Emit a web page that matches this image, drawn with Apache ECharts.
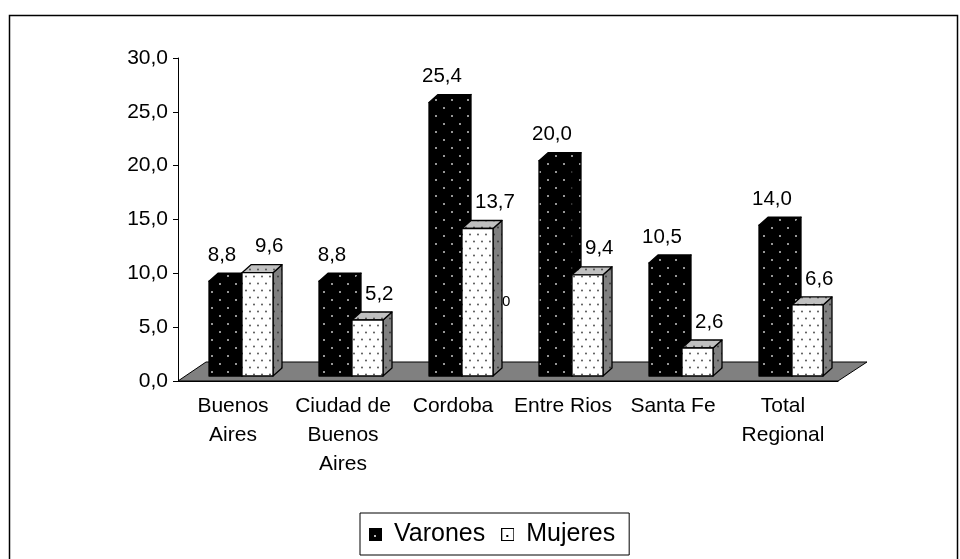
<!DOCTYPE html>
<html>
<head>
<meta charset="utf-8">
<script src="https://cdn.jsdelivr.net/npm/echarts@6/dist/echarts.min.js"></script>
<style>
  html, body { margin: 0; background: #fff; }
  #chart { width: 960px; height: 559px; }
</style>
</head>
<body>
<div id="chart"></div>
<script>
// datos
const categories = ['Buenos\nAires', 'Ciudad de\nBuenos\nAires', 'Cordoba', 'Entre Rios', 'Santa Fe', 'Total\nRegional'];
const varones = [8.8, 8.8, 25.4, 20.0, 10.5, 14.0];
const mujeres = [9.6, 5.2, 13.7, 9.4, 2.6, 6.6];
const yMin = 0, yMax = 30, yStep = 5;

const FONT = '"Liberation Sans", Arial, sans-serif';

// texturas punteadas
function tile(w, h, bg, dot, pts, r) {
    const c = document.createElement('canvas');
    c.width = w; c.height = h;
    const ctx = c.getContext('2d');
    ctx.fillStyle = bg;
    ctx.fillRect(0, 0, w, h);
    ctx.fillStyle = dot;
    pts.forEach(p => { ctx.beginPath(); ctx.arc(p[0], p[1], r, 0, Math.PI * 2); ctx.fill(); });
    return c;
}
const pat = (c) => ({ image: c, repeat: 'repeat' });

const blackTex = pat(tile(16, 16, '#000', '#c8c8c8', [[4, 4], [12, 12]], 1));
const whiteTex = pat(tile(8, 14, '#fff', '#444', [[2, 3.5], [6, 10.5]], 0.9));
const topTex = pat(tile(8, 14, '#c0c0c0', '#444', [[2, 3.5], [6, 10.5]], 0.9));
const sideTex = pat(tile(8, 14, '#808080', '#333', [[2, 3.5], [6, 10.5]], 0.9));

// iconos de la leyenda
function legendIcon(bg, dot) {
    const c = document.createElement('canvas');
    c.width = 13; c.height = 13;
    const ctx = c.getContext('2d');
    ctx.fillStyle = bg; ctx.fillRect(0, 0, 13, 13);
    ctx.strokeStyle = '#000'; ctx.lineWidth = 1; ctx.strokeRect(0.5, 0.5, 12, 12);
    ctx.fillStyle = dot; ctx.fillRect(5, 7, 2, 2);
    return 'image://' + c.toDataURL();
}

function fmt(v) { return v.toFixed(1).replace('.', ','); }

// barra 3D
function barRenderer(s) {
    return function (params, api) {
        const i = api.value(0), v = api.value(1);
        const base = api.coord([i, 0]);
        const c = base[0];
        const y0 = base[1] - 5;
        const h = api.size([0, v])[1];
        const x0 = c + (s === 0 ? -24 : 9);
        const w = s === 0 ? 33 : 31;
        const top = y0 - h;
        const dx = 9, dy = -8;
        const front = s === 0 ? blackTex : whiteTex;
        const topFill = s === 0 ? blackTex : topTex;
        const sideFill = s === 0 ? blackTex : sideTex;
        const line = { stroke: '#000', lineWidth: 1.3, lineJoin: 'round' };
        // etiqueta: varones centrada, mujeres a la derecha
        const label = s === 0
            ? { x: c - 11, align: 'center' }
            : { x: c + 22, align: 'left' };
        return {
            type: 'group',
            children: [
                { type: 'polygon', shape: { points: [[x0 + w, top], [x0 + w + dx, top + dy], [x0 + w + dx, y0 + dy], [x0 + w, y0]] },
                  style: Object.assign({ fill: sideFill }, line) },
                { type: 'polygon', shape: { points: [[x0, top], [x0 + dx, top + dy], [x0 + w + dx, top + dy], [x0 + w, top]] },
                  style: Object.assign({ fill: topFill }, line) },
                { type: 'rect', shape: { x: x0, y: top, width: w, height: h },
                  style: Object.assign({ fill: front }, line) },
                { type: 'text', z2: 10,
                  style: { text: fmt(v), x: label.x, y: top - 26, align: label.align, verticalAlign: 'middle',
                           font: '20.5px ' + FONT, fill: '#000' } }
            ]
        };
    };
}

const chart = echarts.init(document.getElementById('chart'));

chart.setOption({
    backgroundColor: '#fff',
    animation: false,
    grid: { left: 178, right: 122, top: 58, bottom: 178 },
    xAxis: {
        type: 'category',
        data: categories,
        z: 5,
        axisLine: { lineStyle: { color: '#000', width: 1 } },
        axisTick: { length: 6, lineStyle: { color: '#000' } },
        axisLabel: { color: '#000', fontSize: 21, fontFamily: FONT, lineHeight: 29, margin: 11, interval: 0 }
    },
    yAxis: {
        type: 'value',
        min: yMin, max: yMax, interval: yStep,
        z: 5,
        splitLine: { show: false },
        axisLine: { show: true, lineStyle: { color: '#000', width: 1 } },
        axisTick: { show: true, length: 5, lineStyle: { color: '#000' } },
        axisLabel: { color: '#000', fontSize: 21, fontFamily: FONT, margin: 10, formatter: fmt }
    },
    legend: {
        left: 360, top: 513,
        padding: [9, 14, 8, 9],
        borderColor: '#000', borderWidth: 1,
        itemWidth: 13, itemHeight: 13, itemGap: 16,
        textStyle: { color: '#000', fontSize: 25, fontFamily: FONT, padding: [0, 0, 0, 7] },
        data: [
            { name: 'Varones', icon: legendIcon('#000', '#bbb') },
            { name: 'Mujeres', icon: legendIcon('#fff', '#000') }
        ]
    },
    graphic: [
        { type: 'rect', shape: { x: 9.5, y: 15.5, width: 948, height: 580 },
          style: { fill: 'none', stroke: '#000', lineWidth: 1.5 }, silent: true },
        { type: 'text', left: 502, top: 294, style: { text: '0', font: '15px ' + FONT, fill: '#000' } }
    ],
    series: [
        {
            name: 'piso', type: 'custom', z: 1, silent: true,
            data: [[0]],
            renderItem: function (params, api) {
                const cs = params.coordSys;
                const yb = cs.y + cs.height;
                return {
                    type: 'polygon',
                    shape: { points: [[cs.x, yb], [cs.x + cs.width, yb], [cs.x + cs.width + 29, yb - 19], [cs.x + 28, yb - 19]] },
                    style: { fill: '#808080', stroke: '#000', lineWidth: 1 }
                };
            }
        },
        {
            name: 'Varones', type: 'custom', z: 2,
            itemStyle: { color: '#000' },
            data: varones.map((v, i) => [i, v]),
            renderItem: barRenderer(0)
        },
        {
            name: 'Mujeres', type: 'custom', z: 3,
            itemStyle: { color: '#fff' },
            data: mujeres.map((v, i) => [i, v]),
            renderItem: barRenderer(1)
        }
    ]
});
</script>
</body>
</html>
